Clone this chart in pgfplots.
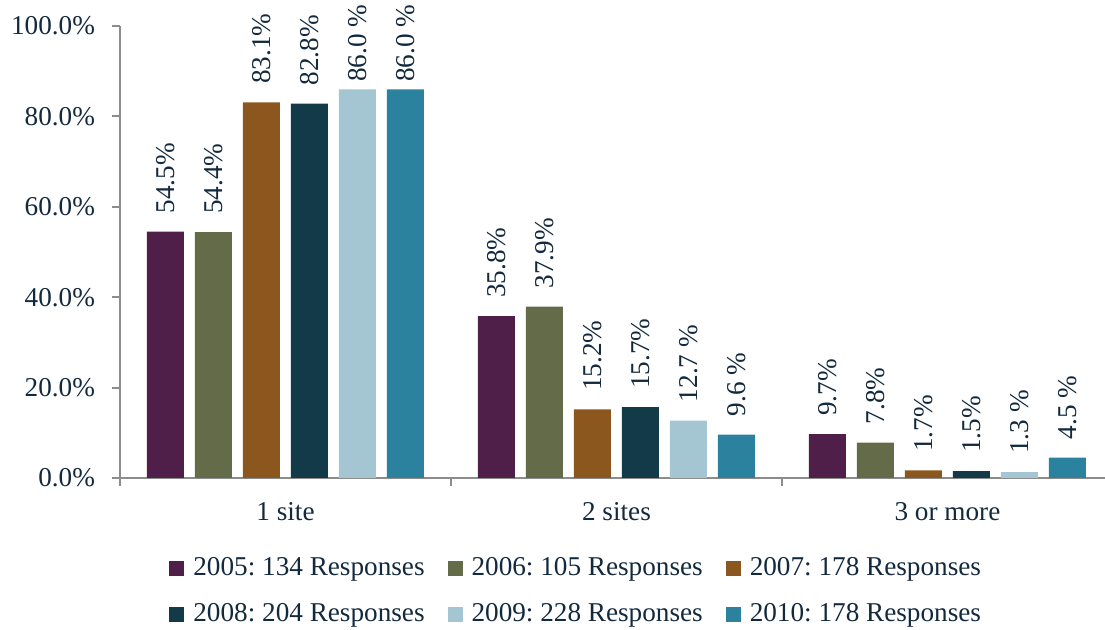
\documentclass[border=0pt]{standalone}
\usepackage{fontspec}
\setmainfont{Liberation Serif}
\usepackage{pgfplots}
\pgfplotsset{compat=1.18}

\definecolor{txt}{HTML}{13293D}
\definecolor{axgrey}{HTML}{8C8C8C}
\definecolor{c2005}{HTML}{4F1F4A}
\definecolor{c2006}{HTML}{636B48}
\definecolor{c2007}{HTML}{8C571F}
\definecolor{c2008}{HTML}{133A48}
\definecolor{c2009}{HTML}{A3C6D2}
\definecolor{c2010}{HTML}{2A829F}

\begin{document}
\frenchspacing
\begin{tikzpicture}[font=\fontsize{13.6pt}{16pt}\selectfont]
\begin{axis}[
    ybar=5.5pt,
    bar width=18.5pt,
    scale only axis,
    width=492.5pt,
    height=226pt,
    xmin=-0.5, xmax=2.476,
    ymin=0, ymax=100,
    clip=false,
    axis x line*=bottom,
    axis y line*=left,
    axis line style={draw=axgrey, line width=1pt, -},
    tick align=outside,
    ytick={0,20,40,60,80,100},
    yticklabels={0.0\%,20.0\%,40.0\%,60.0\%,80.0\%,100.0\%},
    xtick={0,1,2},
    xticklabels={1 site,2 sites,3 or more},
    minor xtick={-0.5,0.5,1.5},
    major tick length=4pt,
    minor tick length=4pt,
    xtick style={draw=none},
    minor x tick style={draw=axgrey, line width=1pt},
    ytick style={draw=axgrey, line width=1pt},
    tick label style={text=txt},
    xticklabel style={yshift=-4.5pt},
    yticklabel style={xshift=-5pt},
    point meta=explicit symbolic,
    nodes near coords,
    visualization depends on={rawy \as \rawy},
    every node near coord/.append style={rotate=90, anchor=west, text=txt,
        /utils/exec={\ifdim\rawy pt>85pt\def\labsep{3.5pt}\else\def\labsep{9pt}\fi},
        inner xsep=\labsep, inner ysep=0pt},
    legend image code/.code={\path[#1, draw=none] (0pt,-3.75pt) rectangle (7.5pt,3.75pt);},
    legend columns=3,
    legend cell align=left,
    legend style={draw=none, fill=none, inner sep=0pt, text=txt,
        at={(0,0)}, anchor=north west, xshift=24.5pt, yshift=-38.5pt,
        nodes={inner sep=0pt, text height=10pt, text depth=3pt},
        row sep=10pt,
        /tikz/every odd column/.append style={column sep=4.5pt},
        /tikz/every even column/.append style={column sep=11.5pt}},
]
\addplot[fill=c2005, draw=none] coordinates {(0,54.5) [54.5\%] (1,35.8) [35.8\%] (2,9.7) [9.7\%]};
\addplot[fill=c2006, draw=none] coordinates {(0,54.4) [54.4\%] (1,37.9) [37.9\%] (2,7.8) [7.8\%]};
\addplot[fill=c2007, draw=none] coordinates {(0,83.1) [83.1\%] (1,15.2) [15.2\%] (2,1.7) [1.7\%]};
\addplot[fill=c2008, draw=none] coordinates {(0,82.8) [82.8\%] (1,15.7) [15.7\%] (2,1.5) [1.5\%]};
\addplot[fill=c2009, draw=none] coordinates {(0,86.0) [86.0 \%] (1,12.7) [12.7 \%] (2,1.3) [1.3 \%]};
\addplot[fill=c2010, draw=none] coordinates {(0,86.0) [86.0 \%] (1,9.6) [9.6 \%] (2,4.5) [4.5 \%]};
\legend{2005: 134 Responses, 2006: 105 Responses, 2007: 178 Responses,
        2008: 204 Responses, 2009: 228 Responses, 2010: 178 Responses}
\end{axis}
\pgfresetboundingbox
\path[use as bounding box] ([shift={(-60pt,-76pt)}]current axis.south west)
    rectangle ([shift={(492.5pt,239pt)}]current axis.south west);
\end{tikzpicture}
\end{document}
